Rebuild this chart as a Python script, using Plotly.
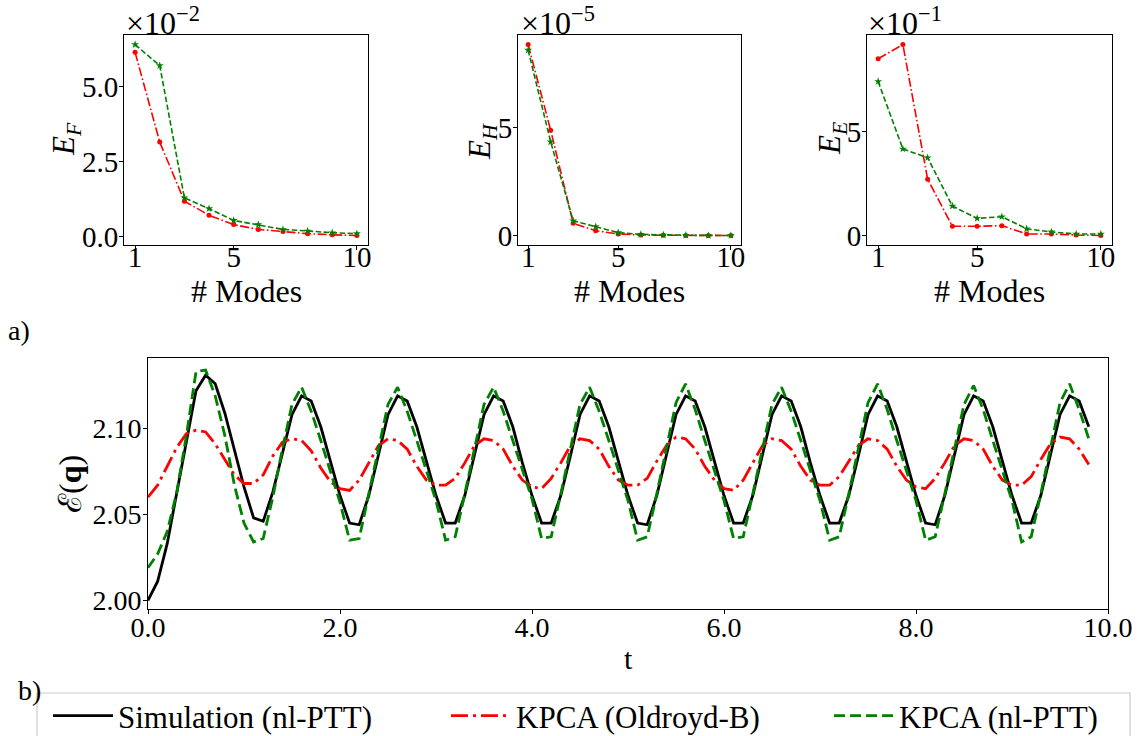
import numpy as np
import plotly.graph_objects as go

# ---------------- data ----------------
modes = [1, 2, 3, 4, 5, 6, 7, 8, 9, 10]

# reconstruction errors vs number of modes (mantissas; scale shown as offset text)
ef_oldroyd = [6.13, 3.15, 1.19, 0.72, 0.41, 0.25, 0.18, 0.11, 0.07, 0.05]   # x1e-2
ef_ptt = [6.39, 5.69, 1.30, 0.94, 0.55, 0.41, 0.25, 0.20, 0.14, 0.11]       # x1e-2
eh_oldroyd = [8.86, 4.89, 0.57, 0.23, 0.08, 0.03, 0.02, 0.01, 0.01, 0.01]   # x1e-5
eh_ptt = [8.60, 4.35, 0.69, 0.42, 0.14, 0.06, 0.03, 0.02, 0.01, 0.01]       # x1e-5
ee_oldroyd = [8.49, 9.17, 2.71, 0.45, 0.45, 0.48, 0.08, 0.08, 0.03, 0.01]   # x1e-1
ee_ptt = [7.40, 4.16, 3.74, 1.42, 0.83, 0.91, 0.33, 0.18, 0.08, 0.08]       # x1e-1

# energy time series, sampled every 0.1 time units
t = np.round(np.arange(99) * 0.1, 1)

energy_sim = [
    2.000, 2.011, 2.033, 2.063, 2.094, 2.122, 2.131, 2.126, 2.109, 2.088,
    2.066, 2.048, 2.046, 2.063, 2.086, 2.108, 2.119, 2.116, 2.101, 2.081,
    2.061, 2.045, 2.044, 2.061, 2.084, 2.108, 2.119, 2.116, 2.101, 2.081,
    2.061, 2.045, 2.045, 2.061, 2.084, 2.108, 2.119, 2.116, 2.101, 2.080,
    2.061, 2.045, 2.045, 2.061, 2.084, 2.108, 2.119, 2.116, 2.101, 2.081,
    2.061, 2.045, 2.044, 2.061, 2.084, 2.108, 2.119, 2.116, 2.101, 2.081,
    2.061, 2.045, 2.045, 2.061, 2.084, 2.108, 2.119, 2.116, 2.101, 2.080,
    2.061, 2.045, 2.045, 2.061, 2.084, 2.108, 2.119, 2.116, 2.101, 2.081,
    2.061, 2.045, 2.044, 2.061, 2.084, 2.108, 2.119, 2.116, 2.101, 2.081,
    2.061, 2.045, 2.045, 2.061, 2.084, 2.108, 2.119, 2.116, 2.101,
]

energy_kpca_oldroyd = [
    2.060, 2.067, 2.078, 2.089, 2.097, 2.099, 2.098, 2.091, 2.082, 2.073,
    2.068, 2.068, 2.073, 2.084, 2.092, 2.094, 2.093, 2.087, 2.077, 2.069,
    2.065, 2.064, 2.070, 2.080, 2.090, 2.094, 2.093, 2.088, 2.078, 2.070,
    2.067, 2.067, 2.071, 2.080, 2.090, 2.094, 2.093, 2.088, 2.078, 2.070,
    2.066, 2.065, 2.071, 2.080, 2.090, 2.094, 2.093, 2.088, 2.078, 2.070,
    2.067, 2.067, 2.071, 2.081, 2.090, 2.095, 2.094, 2.088, 2.078, 2.070,
    2.065, 2.064, 2.070, 2.080, 2.090, 2.094, 2.093, 2.088, 2.078, 2.070,
    2.067, 2.067, 2.072, 2.081, 2.090, 2.094, 2.093, 2.088, 2.078, 2.070,
    2.066, 2.065, 2.071, 2.080, 2.090, 2.094, 2.093, 2.088, 2.078, 2.070,
    2.067, 2.067, 2.072, 2.082, 2.091, 2.095, 2.094, 2.088, 2.079,
]

energy_kpca_ptt = [
    2.019, 2.027, 2.040, 2.063, 2.096, 2.133, 2.134, 2.119, 2.096, 2.067,
    2.045, 2.034, 2.036, 2.060, 2.088, 2.114, 2.124, 2.110, 2.093, 2.075,
    2.057, 2.035, 2.036, 2.062, 2.089, 2.114, 2.124, 2.110, 2.093, 2.076,
    2.058, 2.035, 2.037, 2.062, 2.089, 2.114, 2.124, 2.110, 2.093, 2.076,
    2.059, 2.036, 2.037, 2.062, 2.089, 2.114, 2.124, 2.110, 2.093, 2.076,
    2.058, 2.035, 2.037, 2.062, 2.089, 2.115, 2.126, 2.111, 2.093, 2.076,
    2.058, 2.036, 2.037, 2.062, 2.089, 2.114, 2.124, 2.110, 2.093, 2.076,
    2.058, 2.035, 2.037, 2.062, 2.089, 2.115, 2.126, 2.111, 2.093, 2.076,
    2.058, 2.035, 2.037, 2.062, 2.089, 2.114, 2.125, 2.111, 2.093, 2.076,
    2.058, 2.034, 2.037, 2.062, 2.089, 2.115, 2.126, 2.111, 2.094,
]

# ---------------- figure ----------------
W, H = 1137, 736
FONT = "Liberation Serif, DejaVu Serif, serif"
RED = "#ff0000"
GREEN = "#008000"


def px_x(p):
    return p / W


def px_y(p):
    return 1 - p / H


fig = go.Figure()

top_panels = [
    ("x", "y", ef_oldroyd, ef_ptt),
    ("x2", "y2", eh_oldroyd, eh_ptt),
    ("x3", "y3", ee_oldroyd, ee_ptt),
]
for xa, ya, red_vals, green_vals in top_panels:
    fig.add_trace(go.Scatter(
        x=modes, y=red_vals, xaxis=xa, yaxis=ya, mode="lines+markers",
        line=dict(color=RED, width=1.6, dash="9px,2.5px,1.6px,2.5px"),
        marker=dict(symbol="circle", size=5, color=RED),
        showlegend=False, hoverinfo="skip"))
    fig.add_trace(go.Scatter(
        x=modes, y=green_vals, xaxis=xa, yaxis=ya, mode="lines+markers",
        line=dict(color=GREEN, width=1.6, dash="5.5px,2.5px"),
        marker=dict(symbol="star", size=6, color=GREEN),
        showlegend=False, hoverinfo="skip"))

fig.add_trace(go.Scatter(
    x=t, y=energy_sim, xaxis="x4", yaxis="y4", mode="lines",
    line=dict(color="black", width=2.8), name="Simulation (nl-PTT)",
    legend="legend"))
fig.add_trace(go.Scatter(
    x=t, y=energy_kpca_oldroyd, xaxis="x4", yaxis="y4", mode="lines",
    line=dict(color=RED, width=2.8, dash="17px,5px,3px,5px"),
    name="KPCA (Oldroyd-B)", legend="legend2"))
fig.add_trace(go.Scatter(
    x=t, y=energy_kpca_ptt, xaxis="x4", yaxis="y4", mode="lines",
    line=dict(color=GREEN, width=2.8, dash="11px,5px"),
    name="KPCA (nl-PTT)", legend="legend3"))


def padded(*series):
    lo = min(min(s) for s in series)
    hi = max(max(s) for s in series)
    pad = 0.05 * (hi - lo)
    return [lo - pad, hi + pad]


axis_common = dict(
    showline=True, mirror=True, linecolor="black", linewidth=1,
    ticks="outside", ticklen=4, tickwidth=1, tickcolor="black",
    showgrid=False, zeroline=False, automargin=False,
)
top_tickfont = dict(family=FONT, size=29, color="black")
bottom_tickfont = dict(family=FONT, size=28, color="black")

top_y = [px_y(245), px_y(35)]
top_x_domains = [
    [px_x(124), px_x(368)],
    [px_x(518), px_x(741)],
    [px_x(867), px_x(1112)],
]

layout = dict(
    width=W, height=H,
    margin=dict(l=0, r=0, t=0, b=0, autoexpand=False),
    plot_bgcolor="white", paper_bgcolor="white",
    font=dict(family=FONT, size=27, color="black"),
    showlegend=True,
)

for i, dom in enumerate(top_x_domains):
    sfx = "" if i == 0 else str(i + 1)
    layout["xaxis" + sfx] = dict(
        axis_common, domain=dom, anchor="y" + sfx, tickfont=top_tickfont,
        ticklabelstandoff=-18, range=[0.55, 10.45], tickvals=[1, 5, 10])

top_y_common = dict(axis_common, domain=top_y, tickfont=top_tickfont,
                    ticklabelstandoff=-5)
layout["yaxis"] = dict(top_y_common, anchor="x",
                       range=padded(ef_oldroyd, ef_ptt),
                       tickvals=[0, 2.5, 5.0], ticktext=["0.0", "2.5", "5.0"])
layout["yaxis2"] = dict(top_y_common, anchor="x2",
                        range=padded(eh_oldroyd, eh_ptt), tickvals=[0, 5])
layout["yaxis3"] = dict(top_y_common, anchor="x3",
                        range=padded(ee_oldroyd, ee_ptt), tickvals=[0, 5])

layout["xaxis4"] = dict(
    axis_common, domain=[px_x(148), px_x(1108)], anchor="y4",
    tickfont=bottom_tickfont, ticklabelstandoff=-11,
    range=[0, 10], tickvals=[0, 2, 4, 6, 8, 10],
    ticktext=["0.0", "2.0", "4.0", "6.0", "8.0", "10.0"])
layout["yaxis4"] = dict(
    axis_common, domain=[px_y(609), px_y(358)], anchor="x4",
    tickfont=bottom_tickfont, ticklabelstandoff=-4,
    range=[1.995, 2.141], tickvals=[2.00, 2.05, 2.10],
    ticktext=["2.00", "2.05", "2.10"])

# one legend per entry so each can sit in its own column of the shared frame
legend_common = dict(
    orientation="h", y=px_y(689), xanchor="left", yanchor="top",
    bgcolor="rgba(0,0,0,0)", borderwidth=0, itemwidth=60,
    font=dict(family=FONT, size=31, color="black"),
)
layout["legend"] = dict(legend_common, x=px_x(48))
layout["legend2"] = dict(legend_common, x=px_x(446))
layout["legend3"] = dict(legend_common, x=px_x(829))

fig.update_layout(**layout)

# legend frame
fig.add_shape(type="rect", xref="paper", yref="paper",
              x0=px_x(37), x1=px_x(1130), y0=px_y(745), y1=px_y(693),
              line=dict(color="#cccccc", width=1.2), fillcolor="rgba(0,0,0,0)",
              layer="below")

# axis titles, scale factors and panel tags
ann = []


def label(text, xp, yp, size, angle=0, xanchor="center"):
    ann.append(dict(text=text, x=px_x(xp), y=px_y(yp), xref="paper",
                    yref="paper", showarrow=False, textangle=angle,
                    xanchor=xanchor, yanchor="middle", font=dict(size=size)))


for x0, x1 in [(124, 368), (518, 741), (867, 1112)]:
    label("# Modes", (x0 + x1) / 2, 291, 32)

label("<i>E</i><sub><i>F</i></sub>", 66, 139, 31, angle=-90)
label("<i>E</i><sub><i>H</i></sub>", 482, 142, 31, angle=-90)
label("<i>E</i><sub><i>E</i></sub>", 832, 139, 31, angle=-90)

for exp, xl in [("−2", 124), ("−5", 519), ("−1", 866)]:
    label("×10<sup>" + exp + "</sup>", xl, 21, 32, xanchor="left")

label("t", 628, 658, 30)
label("ℰ(<b>q</b>)", 70, 484, 32, angle=-90)
label("a)", 19, 330, 28)
label("b)", 29, 690, 28)

fig.update_layout(annotations=ann)

fig.write_html("out.html")
